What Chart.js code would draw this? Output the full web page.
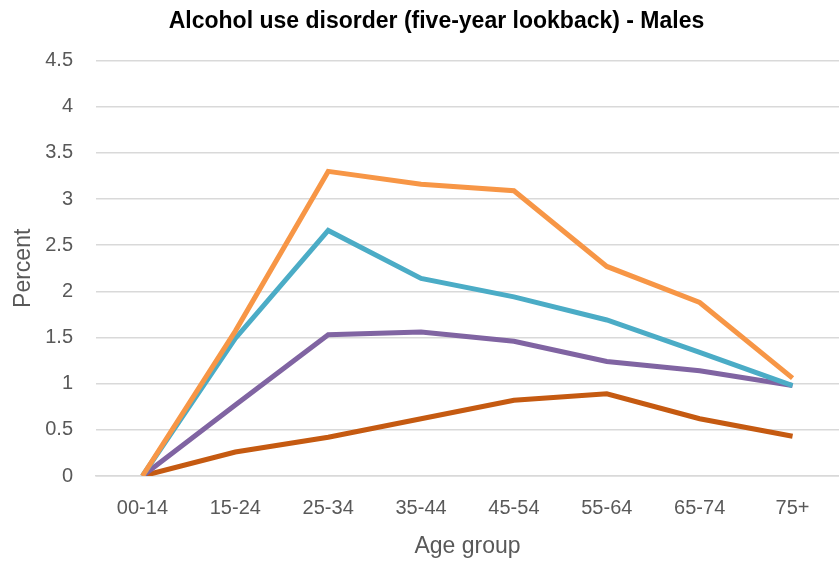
<!DOCTYPE html>
<html>
<head>
<meta charset="utf-8">
<script src="https://cdn.jsdelivr.net/npm/chart.js@4"></script>
<style>
  html, body { margin: 0; padding: 0; background: #fff; }
  #grafico { display: block; }
</style>
</head>
<body>
<canvas id="grafico" width="839" height="561"></canvas>
<script>
// dados
const faixasEtarias = ['00-14', '15-24', '25-34', '35-44', '45-54', '55-64', '65-74', '75+'];
const serieLaranja = [0, 1.57, 3.30, 3.16, 3.09, 2.27, 1.88, 1.06];
const serieAzul = [0, 1.49, 2.66, 2.14, 1.94, 1.69, 1.34, 0.98];
const serieRoxa = [0, 0.77, 1.53, 1.56, 1.46, 1.24, 1.14, 0.98];
const serieMarrom = [0, 0.26, 0.42, 0.62, 0.82, 0.89, 0.62, 0.43];
const ticksY = ['0', '0.5', '1', '1.5', '2', '2.5', '3', '3.5', '4', '4.5'];

const fonte = '"Liberation Sans", "Open Sans", sans-serif';
const corTexto = '#595959';
const corGrade = '#d9d9d9';

function linha(dados, cor) {
    return {
        data: dados,
        borderColor: cor,
        backgroundColor: cor,
        borderWidth: 5,
        pointRadius: 0,
        tension: 0,
        fill: false,
    };
}

const ctx = document.getElementById('grafico');
new Chart(ctx, {
    type: 'line',
    data: {
        labels: faixasEtarias,
        datasets: [
            linha(serieLaranja, '#f79646'),
            linha(serieAzul, '#4bacc6'),
            linha(serieRoxa, '#8064a2'),
            linha(serieMarrom, '#c55a11'),
        ],
    },
    options: {
        responsive: false,
        animation: false,
        // padding à esquerda só para deslocar o título como no original
        layout: { padding: { left: 30, right: -4, top: 0, bottom: 0 } },
        plugins: {
            legend: { display: false },
            tooltip: { enabled: false },
            title: {
                display: true,
                text: 'Alcohol use disorder (five-year lookback) - Males',
                color: '#000',
                font: { family: fonte, size: 23, weight: 'bold', lineHeight: 1.2 },
                padding: { top: 8, bottom: 25 },
            },
        },
        scales: {
            x: {
                offset: true,
                grid: { display: false, drawTicks: false },
                border: { display: true, color: corGrade, width: 1.5 },
                ticks: {
                    color: corTexto,
                    font: { family: fonte, size: 20 },
                    padding: 20,
                    maxRotation: 0,
                },
                title: {
                    display: true,
                    text: 'Age group',
                    color: corTexto,
                    font: { family: fonte, size: 23 },
                    padding: { top: 11, bottom: 1 },
                },
                afterFit: function (scale) { scale.height = 85; },
            },
            y: {
                min: 0,
                max: 4.5,
                grid: { color: corGrade, lineWidth: 1.5, drawTicks: false },
                border: { display: false },
                ticks: {
                    stepSize: 0.5,
                    color: corTexto,
                    font: { family: fonte, size: 20 },
                    padding: 23,
                    callback: function (valor, i) { return ticksY[i]; },
                },
                title: {
                    display: true,
                    text: 'Percent',
                    color: corTexto,
                    font: { family: fonte, size: 23 },
                    padding: { top: -20, bottom: 0 },
                },
                afterFit: function (scale) { scale.width = 66; },
            },
        },
    },
});
</script>
</body>
</html>
